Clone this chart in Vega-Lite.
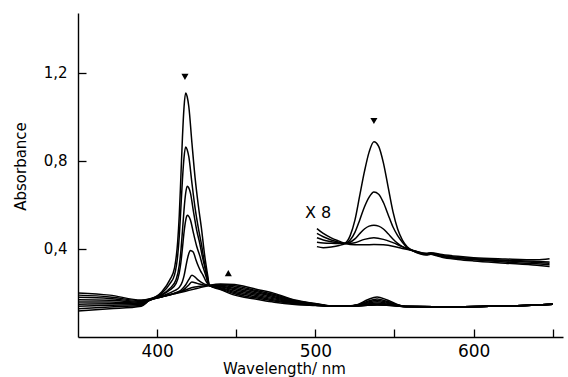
{
"$schema": "https://vega.github.io/schema/vega-lite/v6.json",
"width": 485, "height": 324,
"autosize": {"type": "none"},
"padding": {"left": 78, "top": 13, "right": 5, "bottom": 40},
"background": "white",
"config": {"view": {"stroke": null}, "font": "DejaVu Sans"},
"datasets": {
"spectra": [
{"s":"m0","w":350,"a":0.200},{"s":"m0","w":370,"a":0.190},{"s":"m0","w":390,"a":0.168},{"s":"m0","w":395,"a":0.172},{"s":"m0","w":403,"a":0.205},{"s":"m0","w":408,"a":0.259},{"s":"m0","w":411,"a":0.314},{"s":"m0","w":413,"a":0.433},{"s":"m0","w":414,"a":0.552},{"s":"m0","w":415,"a":0.725},{"s":"m0","w":416,"a":0.905},{"s":"m0","w":417,"a":1.042},{"s":"m0","w":418,"a":1.107},{"s":"m0","w":419,"a":1.090},{"s":"m0","w":420,"a":1.047},{"s":"m0","w":422,"a":0.880},{"s":"m0","w":424,"a":0.722},{"s":"m0","w":426,"a":0.599},{"s":"m0","w":428,"a":0.494},{"s":"m0","w":430,"a":0.373},{"s":"m0","w":432,"a":0.277},{"s":"m0","w":433,"a":0.234},{"s":"m0","w":440,"a":0.215},{"s":"m0","w":449,"a":0.190},{"s":"m0","w":455,"a":0.180},{"s":"m0","w":462,"a":0.172},{"s":"m0","w":474,"a":0.158},{"s":"m0","w":487,"a":0.148},{"s":"m0","w":500,"a":0.143},{"s":"m0","w":512,"a":0.139},{"s":"m0","w":520,"a":0.140},{"s":"m0","w":527,"a":0.148},{"s":"m0","w":533,"a":0.169},{"s":"m0","w":539,"a":0.182},{"s":"m0","w":545,"a":0.169},{"s":"m0","w":551,"a":0.150},{"s":"m0","w":557,"a":0.138},{"s":"m0","w":575,"a":0.137},{"s":"m0","w":610,"a":0.140},{"s":"m0","w":640,"a":0.145},{"s":"m0","w":650,"a":0.149},
{"s":"m1","w":350,"a":0.190},{"s":"m1","w":370,"a":0.182},{"s":"m1","w":390,"a":0.165},{"s":"m1","w":395,"a":0.171},{"s":"m1","w":403,"a":0.199},{"s":"m1","w":408,"a":0.241},{"s":"m1","w":411,"a":0.282},{"s":"m1","w":413,"a":0.370},{"s":"m1","w":414,"a":0.457},{"s":"m1","w":415,"a":0.583},{"s":"m1","w":416,"a":0.714},{"s":"m1","w":417,"a":0.814},{"s":"m1","w":418,"a":0.862},{"s":"m1","w":419,"a":0.850},{"s":"m1","w":420,"a":0.819},{"s":"m1","w":422,"a":0.698},{"s":"m1","w":424,"a":0.585},{"s":"m1","w":426,"a":0.496},{"s":"m1","w":428,"a":0.421},{"s":"m1","w":430,"a":0.333},{"s":"m1","w":432,"a":0.265},{"s":"m1","w":433,"a":0.234},{"s":"m1","w":440,"a":0.218},{"s":"m1","w":449,"a":0.196},{"s":"m1","w":455,"a":0.186},{"s":"m1","w":462,"a":0.178},{"s":"m1","w":474,"a":0.163},{"s":"m1","w":487,"a":0.151},{"s":"m1","w":500,"a":0.144},{"s":"m1","w":512,"a":0.139},{"s":"m1","w":520,"a":0.140},{"s":"m1","w":527,"a":0.146},{"s":"m1","w":533,"a":0.162},{"s":"m1","w":539,"a":0.172},{"s":"m1","w":545,"a":0.162},{"s":"m1","w":551,"a":0.148},{"s":"m1","w":557,"a":0.138},{"s":"m1","w":575,"a":0.137},{"s":"m1","w":610,"a":0.140},{"s":"m1","w":640,"a":0.145},{"s":"m1","w":650,"a":0.149},
{"s":"m2","w":350,"a":0.180},{"s":"m2","w":370,"a":0.175},{"s":"m2","w":390,"a":0.161},{"s":"m2","w":395,"a":0.170},{"s":"m2","w":403,"a":0.192},{"s":"m2","w":408,"a":0.220},{"s":"m2","w":412,"a":0.261},{"s":"m2","w":414,"a":0.325},{"s":"m2","w":415,"a":0.389},{"s":"m2","w":416,"a":0.480},{"s":"m2","w":417,"a":0.577},{"s":"m2","w":418,"a":0.650},{"s":"m2","w":419,"a":0.684},{"s":"m2","w":420,"a":0.677},{"s":"m2","w":421,"a":0.655},{"s":"m2","w":423,"a":0.568},{"s":"m2","w":425,"a":0.485},{"s":"m2","w":427,"a":0.423},{"s":"m2","w":428.5,"a":0.368},{"s":"m2","w":430.5,"a":0.306},{"s":"m2","w":432,"a":0.256},{"s":"m2","w":433,"a":0.234},{"s":"m2","w":440,"a":0.221},{"s":"m2","w":449,"a":0.202},{"s":"m2","w":455,"a":0.1925},{"s":"m2","w":462,"a":0.1835},{"s":"m2","w":474,"a":0.168},{"s":"m2","w":487,"a":0.153},{"s":"m2","w":500,"a":0.145},{"s":"m2","w":512,"a":0.139},{"s":"m2","w":520,"a":0.140},{"s":"m2","w":527,"a":0.145},{"s":"m2","w":533,"a":0.158},{"s":"m2","w":539,"a":0.166},{"s":"m2","w":545,"a":0.158},{"s":"m2","w":551,"a":0.1465},{"s":"m2","w":557,"a":0.138},{"s":"m2","w":575,"a":0.137},{"s":"m2","w":610,"a":0.140},{"s":"m2","w":640,"a":0.145},{"s":"m2","w":650,"a":0.149},
{"s":"m3","w":350,"a":0.169},{"s":"m3","w":370,"a":0.167},{"s":"m3","w":390,"a":0.158},{"s":"m3","w":395,"a":0.170},{"s":"m3","w":403,"a":0.190},{"s":"m3","w":408,"a":0.213},{"s":"m3","w":412,"a":0.243},{"s":"m3","w":414,"a":0.291},{"s":"m3","w":415,"a":0.337},{"s":"m3","w":416,"a":0.403},{"s":"m3","w":417,"a":0.474},{"s":"m3","w":418,"a":0.527},{"s":"m3","w":419,"a":0.552},{"s":"m3","w":420,"a":0.547},{"s":"m3","w":421,"a":0.532},{"s":"m3","w":423,"a":0.470},{"s":"m3","w":425,"a":0.412},{"s":"m3","w":427,"a":0.368},{"s":"m3","w":428.5,"a":0.329},{"s":"m3","w":430.5,"a":0.285},{"s":"m3","w":432,"a":0.249},{"s":"m3","w":433,"a":0.234},{"s":"m3","w":440,"a":0.224},{"s":"m3","w":449,"a":0.208},{"s":"m3","w":455,"a":0.199},{"s":"m3","w":462,"a":0.189},{"s":"m3","w":474,"a":0.173},{"s":"m3","w":487,"a":0.1555},{"s":"m3","w":500,"a":0.146},{"s":"m3","w":512,"a":0.139},{"s":"m3","w":520,"a":0.140},{"s":"m3","w":527,"a":0.144},{"s":"m3","w":533,"a":0.154},{"s":"m3","w":539,"a":0.160},{"s":"m3","w":545,"a":0.154},{"s":"m3","w":551,"a":0.145},{"s":"m3","w":557,"a":0.138},{"s":"m3","w":575,"a":0.137},{"s":"m3","w":610,"a":0.140},{"s":"m3","w":640,"a":0.145},{"s":"m3","w":650,"a":0.149},
{"s":"m4","w":350,"a":0.159},{"s":"m4","w":370,"a":0.159},{"s":"m4","w":390,"a":0.154},{"s":"m4","w":395,"a":0.169},{"s":"m4","w":403,"a":0.186},{"s":"m4","w":411,"a":0.210},{"s":"m4","w":414,"a":0.225},{"s":"m4","w":416,"a":0.252},{"s":"m4","w":417,"a":0.277},{"s":"m4","w":418,"a":0.313},{"s":"m4","w":419,"a":0.350},{"s":"m4","w":420,"a":0.378},{"s":"m4","w":421,"a":0.393},{"s":"m4","w":422,"a":0.390},{"s":"m4","w":423,"a":0.383},{"s":"m4","w":424.5,"a":0.351},{"s":"m4","w":426,"a":0.322},{"s":"m4","w":427.5,"a":0.299},{"s":"m4","w":429,"a":0.281},{"s":"m4","w":430.5,"a":0.258},{"s":"m4","w":432,"a":0.241},{"s":"m4","w":433,"a":0.234},{"s":"m4","w":440,"a":0.2275},{"s":"m4","w":449,"a":0.214},{"s":"m4","w":455,"a":0.205},{"s":"m4","w":462,"a":0.195},{"s":"m4","w":474,"a":0.178},{"s":"m4","w":487,"a":0.158},{"s":"m4","w":500,"a":0.1475},{"s":"m4","w":512,"a":0.139},{"s":"m4","w":520,"a":0.140},{"s":"m4","w":527,"a":0.143},{"s":"m4","w":533,"a":0.150},{"s":"m4","w":539,"a":0.154},{"s":"m4","w":545,"a":0.150},{"s":"m4","w":551,"a":0.1435},{"s":"m4","w":557,"a":0.138},{"s":"m4","w":575,"a":0.137},{"s":"m4","w":610,"a":0.140},{"s":"m4","w":640,"a":0.145},{"s":"m4","w":650,"a":0.149},
{"s":"m5","w":350,"a":0.149},{"s":"m5","w":370,"a":0.151},{"s":"m5","w":390,"a":0.151},{"s":"m5","w":395,"a":0.168},{"s":"m5","w":403,"a":0.183},{"s":"m5","w":411,"a":0.199},{"s":"m5","w":415,"a":0.212},{"s":"m5","w":418,"a":0.236},{"s":"m5","w":420,"a":0.260},{"s":"m5","w":422,"a":0.280},{"s":"m5","w":424,"a":0.272},{"s":"m5","w":426,"a":0.258},{"s":"m5","w":428,"a":0.248},{"s":"m5","w":430,"a":0.240},{"s":"m5","w":433,"a":0.234},{"s":"m5","w":440,"a":0.2306},{"s":"m5","w":449,"a":0.220},{"s":"m5","w":455,"a":0.211},{"s":"m5","w":462,"a":0.2008},{"s":"m5","w":474,"a":0.183},{"s":"m5","w":487,"a":0.1605},{"s":"m5","w":500,"a":0.1486},{"s":"m5","w":512,"a":0.139},{"s":"m5","w":520,"a":0.140},{"s":"m5","w":527,"a":0.142},{"s":"m5","w":533,"a":0.147},{"s":"m5","w":539,"a":0.150},{"s":"m5","w":545,"a":0.147},{"s":"m5","w":551,"a":0.1425},{"s":"m5","w":557,"a":0.138},{"s":"m5","w":575,"a":0.137},{"s":"m5","w":610,"a":0.140},{"s":"m5","w":640,"a":0.145},{"s":"m5","w":650,"a":0.149},
{"s":"m6","w":350,"a":0.139},{"s":"m6","w":370,"a":0.144},{"s":"m6","w":390,"a":0.147},{"s":"m6","w":395,"a":0.167},{"s":"m6","w":403,"a":0.183},{"s":"m6","w":411,"a":0.198},{"s":"m6","w":415,"a":0.207},{"s":"m6","w":418,"a":0.222},{"s":"m6","w":420,"a":0.236},{"s":"m6","w":422,"a":0.249},{"s":"m6","w":424,"a":0.246},{"s":"m6","w":426,"a":0.242},{"s":"m6","w":428,"a":0.238},{"s":"m6","w":430,"a":0.236},{"s":"m6","w":433,"a":0.234},{"s":"m6","w":440,"a":0.234},{"s":"m6","w":449,"a":0.226},{"s":"m6","w":455,"a":0.2175},{"s":"m6","w":462,"a":0.2065},{"s":"m6","w":474,"a":0.188},{"s":"m6","w":487,"a":0.163},{"s":"m6","w":500,"a":0.1498},{"s":"m6","w":512,"a":0.139},{"s":"m6","w":520,"a":0.140},{"s":"m6","w":527,"a":0.1416},{"s":"m6","w":533,"a":0.1456},{"s":"m6","w":539,"a":0.148},{"s":"m6","w":545,"a":0.1456},{"s":"m6","w":551,"a":0.142},{"s":"m6","w":557,"a":0.138},{"s":"m6","w":575,"a":0.137},{"s":"m6","w":610,"a":0.140},{"s":"m6","w":640,"a":0.145},{"s":"m6","w":650,"a":0.149},
{"s":"m7","w":350,"a":0.128},{"s":"m7","w":370,"a":0.136},{"s":"m7","w":390,"a":0.144},{"s":"m7","w":395,"a":0.166},{"s":"m7","w":403,"a":0.183},{"s":"m7","w":411,"a":0.197},{"s":"m7","w":415,"a":0.205},{"s":"m7","w":418,"a":0.213},{"s":"m7","w":420,"a":0.219},{"s":"m7","w":423,"a":0.226},{"s":"m7","w":426,"a":0.229},{"s":"m7","w":430,"a":0.232},{"s":"m7","w":433,"a":0.234},{"s":"m7","w":440,"a":0.237},{"s":"m7","w":449,"a":0.232},{"s":"m7","w":455,"a":0.224},{"s":"m7","w":462,"a":0.212},{"s":"m7","w":474,"a":0.193},{"s":"m7","w":487,"a":0.1655},{"s":"m7","w":500,"a":0.151},{"s":"m7","w":512,"a":0.139},{"s":"m7","w":520,"a":0.140},{"s":"m7","w":527,"a":0.141},{"s":"m7","w":533,"a":0.144},{"s":"m7","w":539,"a":0.146},{"s":"m7","w":545,"a":0.144},{"s":"m7","w":551,"a":0.1415},{"s":"m7","w":557,"a":0.138},{"s":"m7","w":575,"a":0.137},{"s":"m7","w":610,"a":0.140},{"s":"m7","w":640,"a":0.145},{"s":"m7","w":650,"a":0.149},
{"s":"m8","w":350,"a":0.118},{"s":"m8","w":370,"a":0.128},{"s":"m8","w":390,"a":0.140},{"s":"m8","w":395,"a":0.165},{"s":"m8","w":403,"a":0.182},{"s":"m8","w":411,"a":0.196},{"s":"m8","w":418,"a":0.208},{"s":"m8","w":425,"a":0.220},{"s":"m8","w":433,"a":0.234},{"s":"m8","w":440,"a":0.240},{"s":"m8","w":449,"a":0.238},{"s":"m8","w":455,"a":0.230},{"s":"m8","w":462,"a":0.218},{"s":"m8","w":474,"a":0.198},{"s":"m8","w":487,"a":0.168},{"s":"m8","w":500,"a":0.152},{"s":"m8","w":512,"a":0.139},{"s":"m8","w":520,"a":0.140},{"s":"m8","w":527,"a":0.141},{"s":"m8","w":533,"a":0.1435},{"s":"m8","w":539,"a":0.145},{"s":"m8","w":545,"a":0.1435},{"s":"m8","w":551,"a":0.141},{"s":"m8","w":557,"a":0.138},{"s":"m8","w":575,"a":0.137},{"s":"m8","w":610,"a":0.140},{"s":"m8","w":640,"a":0.145},{"s":"m8","w":650,"a":0.149},
{"s":"x0","w":501,"a":0.41},{"s":"x0","w":505,"a":0.405},{"s":"x0","w":510,"a":0.408},{"s":"x0","w":515,"a":0.415},{"s":"x0","w":519,"a":0.426},{"s":"x0","w":522,"a":0.46},{"s":"x0","w":525,"a":0.53},{"s":"x0","w":528,"a":0.64},{"s":"x0","w":531,"a":0.75},{"s":"x0","w":534,"a":0.84},{"s":"x0","w":537,"a":0.886},{"s":"x0","w":540,"a":0.865},{"s":"x0","w":543,"a":0.79},{"s":"x0","w":546,"a":0.68},{"s":"x0","w":549,"a":0.57},{"s":"x0","w":552,"a":0.49},{"s":"x0","w":555,"a":0.44},{"s":"x0","w":558,"a":0.41},{"s":"x0","w":562,"a":0.39},{"s":"x0","w":566,"a":0.378},{"s":"x0","w":570,"a":0.372},{"s":"x0","w":573,"a":0.375},{"s":"x0","w":576,"a":0.37},{"s":"x0","w":580,"a":0.362},{"s":"x0","w":590,"a":0.352},{"s":"x0","w":600,"a":0.345},{"s":"x0","w":620,"a":0.335},{"s":"x0","w":640,"a":0.325},{"s":"x0","w":648,"a":0.32},
{"s":"x1","w":501,"a":0.45},{"s":"x1","w":505,"a":0.44},{"s":"x1","w":510,"a":0.432},{"s":"x1","w":515,"a":0.426},{"s":"x1","w":519,"a":0.424},{"s":"x1","w":522,"a":0.44},{"s":"x1","w":525,"a":0.475},{"s":"x1","w":528,"a":0.53},{"s":"x1","w":531,"a":0.59},{"s":"x1","w":534,"a":0.635},{"s":"x1","w":537,"a":0.658},{"s":"x1","w":540,"a":0.648},{"s":"x1","w":543,"a":0.61},{"s":"x1","w":546,"a":0.555},{"s":"x1","w":549,"a":0.50},{"s":"x1","w":552,"a":0.46},{"s":"x1","w":555,"a":0.43},{"s":"x1","w":558,"a":0.405},{"s":"x1","w":562,"a":0.39},{"s":"x1","w":566,"a":0.38},{"s":"x1","w":570,"a":0.374},{"s":"x1","w":573,"a":0.377},{"s":"x1","w":576,"a":0.372},{"s":"x1","w":580,"a":0.365},{"s":"x1","w":590,"a":0.356},{"s":"x1","w":600,"a":0.35},{"s":"x1","w":620,"a":0.34},{"s":"x1","w":640,"a":0.332},{"s":"x1","w":648,"a":0.328},
{"s":"x2","w":501,"a":0.43},{"s":"x2","w":505,"a":0.427},{"s":"x2","w":510,"a":0.425},{"s":"x2","w":515,"a":0.424},{"s":"x2","w":519,"a":0.424},{"s":"x2","w":522,"a":0.43},{"s":"x2","w":525,"a":0.445},{"s":"x2","w":528,"a":0.468},{"s":"x2","w":531,"a":0.49},{"s":"x2","w":534,"a":0.503},{"s":"x2","w":537,"a":0.507},{"s":"x2","w":540,"a":0.503},{"s":"x2","w":543,"a":0.49},{"s":"x2","w":546,"a":0.468},{"s":"x2","w":549,"a":0.445},{"s":"x2","w":552,"a":0.425},{"s":"x2","w":555,"a":0.41},{"s":"x2","w":558,"a":0.40},{"s":"x2","w":562,"a":0.39},{"s":"x2","w":566,"a":0.382},{"s":"x2","w":570,"a":0.376},{"s":"x2","w":573,"a":0.378},{"s":"x2","w":576,"a":0.374},{"s":"x2","w":580,"a":0.368},{"s":"x2","w":590,"a":0.36},{"s":"x2","w":600,"a":0.354},{"s":"x2","w":620,"a":0.345},{"s":"x2","w":640,"a":0.338},{"s":"x2","w":648,"a":0.335},
{"s":"x3","w":501,"a":0.47},{"s":"x3","w":505,"a":0.455},{"s":"x3","w":510,"a":0.44},{"s":"x3","w":515,"a":0.43},{"s":"x3","w":519,"a":0.424},{"s":"x3","w":525,"a":0.428},{"s":"x3","w":531,"a":0.443},{"s":"x3","w":537,"a":0.45},{"s":"x3","w":543,"a":0.443},{"s":"x3","w":549,"a":0.428},{"s":"x3","w":555,"a":0.41},{"s":"x3","w":562,"a":0.392},{"s":"x3","w":570,"a":0.378},{"s":"x3","w":573,"a":0.38},{"s":"x3","w":580,"a":0.37},{"s":"x3","w":590,"a":0.362},{"s":"x3","w":600,"a":0.356},{"s":"x3","w":620,"a":0.348},{"s":"x3","w":640,"a":0.343},{"s":"x3","w":648,"a":0.34},
{"s":"x4","w":501,"a":0.492},{"s":"x4","w":505,"a":0.47},{"s":"x4","w":510,"a":0.45},{"s":"x4","w":515,"a":0.435},{"s":"x4","w":519,"a":0.424},{"s":"x4","w":525,"a":0.418},{"s":"x4","w":531,"a":0.418},{"s":"x4","w":537,"a":0.42},{"s":"x4","w":543,"a":0.418},{"s":"x4","w":549,"a":0.412},{"s":"x4","w":555,"a":0.402},{"s":"x4","w":562,"a":0.392},{"s":"x4","w":570,"a":0.38},{"s":"x4","w":573,"a":0.382},{"s":"x4","w":580,"a":0.374},{"s":"x4","w":590,"a":0.366},{"s":"x4","w":600,"a":0.36},{"s":"x4","w":620,"a":0.354},{"s":"x4","w":640,"a":0.35},{"s":"x4","w":648,"a":0.355}
],
"markers": [
{"w":417.6,"a":1.18,"dir":"down"},
{"w":445,"a":0.29,"dir":"up"},
{"w":537,"a":0.98,"dir":"down"}
],
"notes": [
{"w":493.4,"a":0.561,"t":"X 8"}
]
},
"layer": [
{
"data": {"name": "spectra"},
"mark": {"type": "line", "interpolate": "monotone", "color": "black", "strokeWidth": 1.5},
"encoding": {
"x": {"field": "w", "type": "quantitative",
  "scale": {"domain": [350, 656.5], "nice": false, "zero": false},
  "axis": {"title": "Wavelength/ nm", "values": [400,450,500,550,600,650],
    "labelExpr": "datum.value % 100 == 0 ? datum.label : ''",
    "grid": false, "tickSize": -8, "labelPadding": 14,
    "domainColor": "black", "tickColor": "black", "domainWidth": 1.4, "tickWidth": 1.3,
    "labelColor": "black", "labelFont": "DejaVu Sans", "labelFontSize": 17,
    "titleColor": "black", "titleFont": "DejaVu Sans", "titleFontSize": 15, "titleFontWeight": "normal",
    "titleX": 206, "titleY": 24, "titleAlign": "center", "titleBaseline": "top"}},
"y": {"field": "a", "type": "quantitative",
  "scale": {"domain": [0, 1.47], "nice": false},
  "axis": {"title": "Absorbance", "values": [0.4, 0.8, 1.2],
    "labelExpr": "replace(format(datum.value, '.1f'), '.', ',')",
    "grid": false, "tickSize": -8, "labelPadding": 19,
    "domainColor": "black", "tickColor": "black", "domainWidth": 1.4, "tickWidth": 1.3,
    "labelColor": "black", "labelFont": "DejaVu Sans", "labelFontSize": 15,
    "titleColor": "black", "titleFont": "DejaVu Sans", "titleFontSize": 15, "titleFontWeight": "normal",
    "titleX": -58, "titleY": 153, "titleAlign": "center", "titleBaseline": "middle", "titleAngle": 270}},
"detail": {"field": "s", "type": "nominal"}
}
},
{
"data": {"name": "markers"},
"mark": {"type": "point", "filled": true, "color": "black", "size": 50, "opacity": 1},
"encoding": {
"x": {"field": "w", "type": "quantitative"},
"y": {"field": "a", "type": "quantitative"},
"shape": {"field": "dir", "type": "nominal", "scale": {"domain": ["down", "up"], "range": ["triangle-down", "triangle-up"]}, "legend": null}
}
},
{
"data": {"name": "notes"},
"mark": {"type": "text", "align": "left", "baseline": "middle", "font": "DejaVu Sans", "fontSize": 16, "color": "black"},
"encoding": {
"x": {"field": "w", "type": "quantitative"},
"y": {"field": "a", "type": "quantitative"},
"text": {"field": "t", "type": "nominal"}
}
}
]
}
